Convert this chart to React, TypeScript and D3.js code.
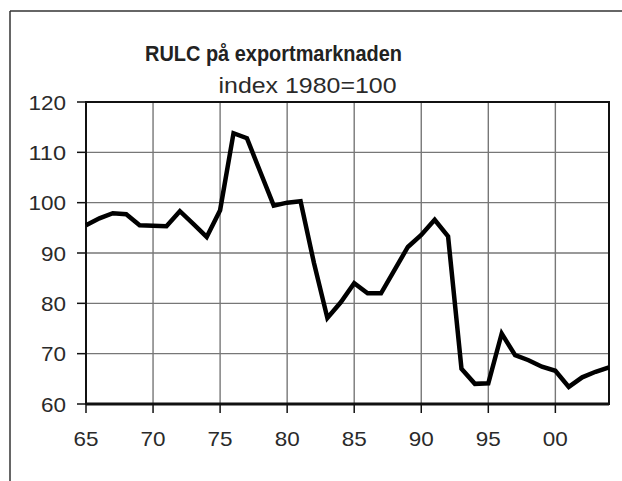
import React from "react";
import * as d3 from "d3";

const years: number[] = [
  1965, 1966, 1967, 1968, 1969, 1970, 1971, 1972, 1973, 1974,
  1975, 1976, 1977, 1978, 1979, 1980, 1981, 1982, 1983, 1984,
  1985, 1986, 1987, 1988, 1989, 1990, 1991, 1992, 1993, 1994,
  1995, 1996, 1997, 1998, 1999, 2000, 2001, 2002, 2003, 2004,
];
const rulc: number[] = [
  95.5, 96.9, 97.9, 97.7, 95.5, 95.4, 95.3, 98.3, 95.8, 93.2,
  98.5, 113.8, 112.8, 106.1, 99.4, 100.0, 100.3, 88.0, 77.1, 80.2,
  84.0, 82.0, 82.0, 86.6, 91.2, 93.6, 96.6, 93.3, 67.0, 64.0,
  64.1, 74.0, 69.7, 68.7, 67.4, 66.6, 63.4, 65.3, 66.4, 67.3,
];
const xTickYears: number[] = [1965, 1970, 1975, 1980, 1985, 1990, 1995, 2000];
const xTickLabels: string[] = ["65", "70", "75", "80", "85", "90", "95", "00"];
const yTicks: number[] = [60, 70, 80, 90, 100, 110, 120];
const title = "RULC på exportmarknaden";
const subtitle = "index 1980=100";

export default function App() {
  const W = 622;
  const H = 481;
  const left = 86;
  const right = 609;
  const top = 102;
  const bottom = 404;
  const x = d3.scaleLinear().domain([1965, 2004]).range([left, right]);
  const y = d3.scaleLinear().domain([60, 120]).range([bottom, top]);
  const line = d3
    .line<number>()
    .x((_, i) => x(years[i]))
    .y((v) => y(v));
  const font = "'Liberation Sans', Arial, sans-serif";
  const digitW = 12.5;

  return (
    <svg
      width={W}
      height={H}
      style={{ position: "absolute", left: 0, top: 0, background: "#fff" }}
      fontFamily={font}
    >
      <rect x={0} y={0} width={W} height={H} fill="#fff" />
      {/* outer frame (top and left only) */}
      <line x1={10} y1={11} x2={W} y2={11} stroke="#333" strokeWidth={1.5} />
      <line x1={10} y1={11} x2={10} y2={H} stroke="#333" strokeWidth={1.5} />

      {/* title */}
      <text
        x={273.5}
        y={61}
        textAnchor="middle"
        fontWeight="bold"
        fontSize={22}
        fill="#222"
        textLength={257}
        lengthAdjust="spacingAndGlyphs"
      >
        {title}
      </text>
      <text
        x={307.5}
        y={93}
        textAnchor="middle"
        fontSize={22}
        fill="#2a2a2a"
        textLength={178}
        lengthAdjust="spacingAndGlyphs"
      >
        {subtitle}
      </text>

      {/* grid */}
      {xTickYears.slice(1).map((t) => (
        <line
          key={"gx" + t}
          x1={x(t)}
          x2={x(t)}
          y1={top}
          y2={bottom}
          stroke="#777"
          strokeWidth={1.4}
        />
      ))}
      {yTicks.slice(1, -1).map((t) => (
        <line
          key={"gy" + t}
          x1={left}
          x2={right}
          y1={y(t)}
          y2={y(t)}
          stroke="#777"
          strokeWidth={1.4}
        />
      ))}

      {/* plot frame */}
      <rect
        x={left}
        y={top}
        width={right - left}
        height={bottom - top}
        fill="none"
        stroke="#111"
        strokeWidth={2}
      />
      <line x1={left} x2={right} y1={bottom} y2={bottom} stroke="#111" strokeWidth={3} />

      {/* y ticks */}
      {yTicks.map((t) => (
        <g key={"yt" + t}>
          <line x1={left - 9} x2={left} y1={y(t)} y2={y(t)} stroke="#111" strokeWidth={1.5} />
          <text
            x={66}
            y={y(t)}
            dy="0.36em"
            textAnchor="end"
            fontSize={21}
            fill="#2a2a2a"
            textLength={String(t).length * digitW}
            lengthAdjust="spacingAndGlyphs"
          >
            {t}
          </text>
        </g>
      ))}

      {/* x ticks */}
      {xTickYears.map((t, i) => (
        <g key={"xt" + t}>
          <line x1={x(t)} x2={x(t)} y1={bottom} y2={bottom + 9} stroke="#111" strokeWidth={1.5} />
          <text
            x={x(t)}
            y={446}
            textAnchor="middle"
            fontSize={21}
            fill="#2a2a2a"
            textLength={xTickLabels[i].length * digitW}
            lengthAdjust="spacingAndGlyphs"
          >
            {xTickLabels[i]}
          </text>
        </g>
      ))}

      {/* data line */}
      <path
        d={line(rulc) || ""}
        fill="none"
        stroke="#000"
        strokeWidth={4.5}
        strokeLinejoin="miter"
        strokeLinecap="butt"
      />
    </svg>
  );
}
